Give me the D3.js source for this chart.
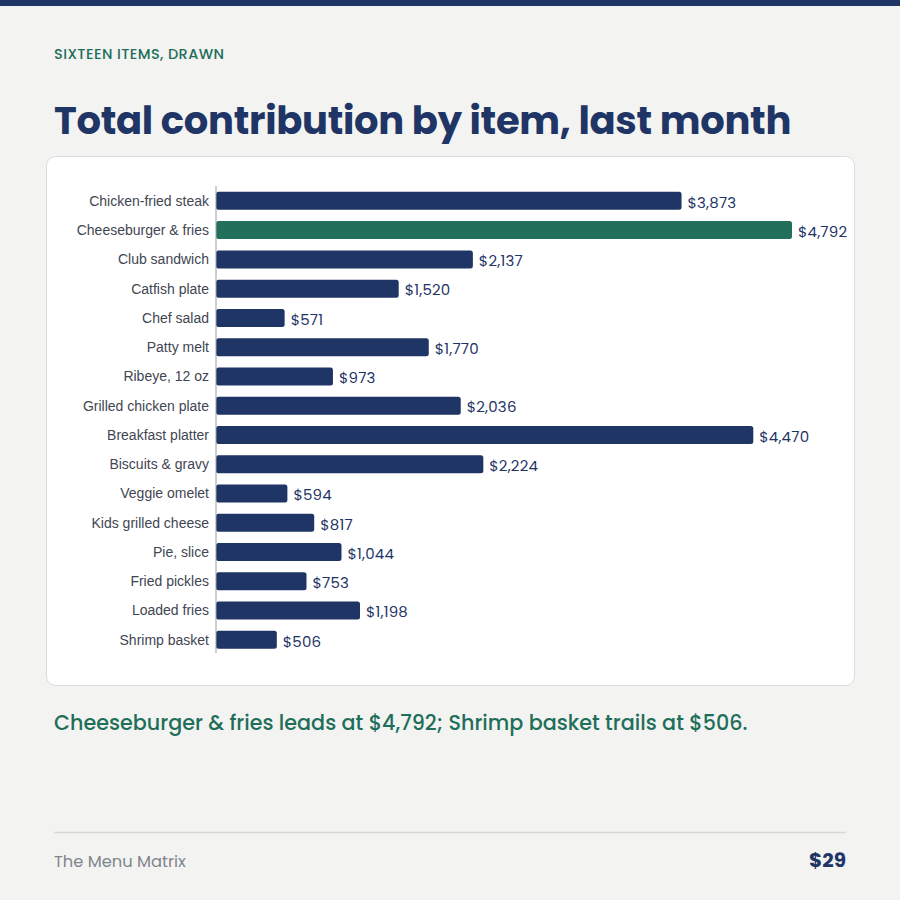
<!DOCTYPE html>
<html>
<head>
<meta charset="utf-8">
<script src="https://cdn.jsdelivr.net/npm/d3@7"></script>
<style>
  html, body { margin: 0; padding: 0; background: #f3f4f2; }
  svg { display: block; }
  .kicker { font-family: Poppins, Inter, "Open Sans", sans-serif; font-weight: 500; font-size: 14.5px; fill: #1f6e5a; letter-spacing: 0.4px; }
  .title { font-family: Poppins, Inter, sans-serif; font-weight: 700; font-size: 38.5px; fill: #1f3566; letter-spacing: -0.3px; }
  .cat { font-family: "Liberation Sans", Arial, sans-serif; font-size: 14px; fill: #3f4652; }
  .val { font-family: Poppins, Inter, sans-serif; font-size: 15px; fill: #1f3566; letter-spacing: 0.2px; }
  .note { font-family: Poppins, Inter, sans-serif; font-weight: 500; font-size: 20.7px; fill: #1f6e5a; }
  .brand { font-family: Poppins, Inter, sans-serif; font-size: 16.3px; fill: #80858c; }
  .price { font-family: Poppins, Inter, sans-serif; font-weight: 700; font-size: 20px; fill: #1f3566; }
</style>
</head>
<body>
<svg id="chart" width="900" height="900"></svg>
<script>
const items = ['Chicken-fried steak', 'Cheeseburger & fries', 'Club sandwich', 'Catfish plate',
  'Chef salad', 'Patty melt', 'Ribeye, 12 oz', 'Grilled chicken plate', 'Breakfast platter',
  'Biscuits & gravy', 'Veggie omelet', 'Kids grilled cheese', 'Pie, slice', 'Fried pickles',
  'Loaded fries', 'Shrimp basket']
const totals = [3873, 4792, 2137, 1520, 571, 1770, 973, 2036, 4470, 2224, 594, 817, 1044, 753, 1198, 506]
const highlight = 'Cheeseburger & fries'

const data = items.map((name, i) => ({ name, v: totals[i] }))
const navy = '#1f3566'
const green = '#22705b'

let svg = d3.select('#chart')

svg.append('rect').attr('width', 900).attr('height', 900).attr('fill', '#f3f4f2')
svg.append('rect').attr('width', 900).attr('height', 6).attr('fill', navy)

svg.append('text').attr('class', 'kicker').attr('x', 54).attr('y', 59).text('SIXTEEN ITEMS, DRAWN')
svg.append('text').attr('class', 'title').attr('x', 54).attr('y', 134).text('Total contribution by item, last month')

// card
svg.append('rect')
  .attr('x', 46.5).attr('y', 156.5).attr('width', 808).attr('height', 529)
  .attr('rx', 9).attr('fill', '#fff').attr('stroke', '#dcdddb')

let x = d3.scaleLinear().domain([0, d3.max(totals)]).range([216, 792])
let y = d3.scaleBand().domain(items).range([186, 654.7]).paddingInner(0.385).paddingOuter(0.2)

let g = svg.append('g')

g.selectAll('rect.bar')
  .data(data)
  .enter()
  .append('rect')
  .attr('class', 'bar')
  .attr('x', x(0))
  .attr('y', d => y(d.name))
  .attr('width', d => x(d.v) - x(0))
  .attr('height', y.bandwidth())
  .attr('rx', 2.5)
  .attr('fill', d => d.name === highlight ? green : navy)

// axis line
g.append('line')
  .attr('x1', 216).attr('x2', 216)
  .attr('y1', 186).attr('y2', 653)
  .attr('stroke', '#9aa0a6').attr('stroke-width', 1)

let form = d3.format(',')

g.selectAll('text.cat')
  .data(data)
  .enter()
  .append('text')
  .attr('class', 'cat')
  .attr('x', 209)
  .attr('y', d => y(d.name) + y.bandwidth() / 2)
  .attr('dy', '0.35em')
  .attr('text-anchor', 'end')
  .text(d => d.name)

g.selectAll('text.val')
  .data(data)
  .enter()
  .append('text')
  .attr('class', 'val')
  .attr('x', d => x(d.v) + 6)
  .attr('y', d => y(d.name) + y.bandwidth() / 2)
  .attr('dy', '0.45em')
  .text(d => '$' + form(d.v))

let best = data.reduce((a, b) => b.v > a.v ? b : a)
let worst = data.reduce((a, b) => b.v < a.v ? b : a)
svg.append('text').attr('class', 'note').attr('x', 54).attr('y', 730)
  .text(`${best.name} leads at $${form(best.v)}; ${worst.name} trails at $${form(worst.v)}.`)

svg.append('line').attr('x1', 54).attr('x2', 846).attr('y1', 832.5).attr('y2', 832.5)
  .attr('stroke', '#d6d8d6').attr('stroke-width', 1.5)
svg.append('text').attr('class', 'brand').attr('x', 54).attr('y', 867).text('The Menu Matrix')
svg.append('text').attr('class', 'price').attr('x', 846).attr('y', 867).attr('text-anchor', 'end').text('$29')
</script>
</body>
</html>
